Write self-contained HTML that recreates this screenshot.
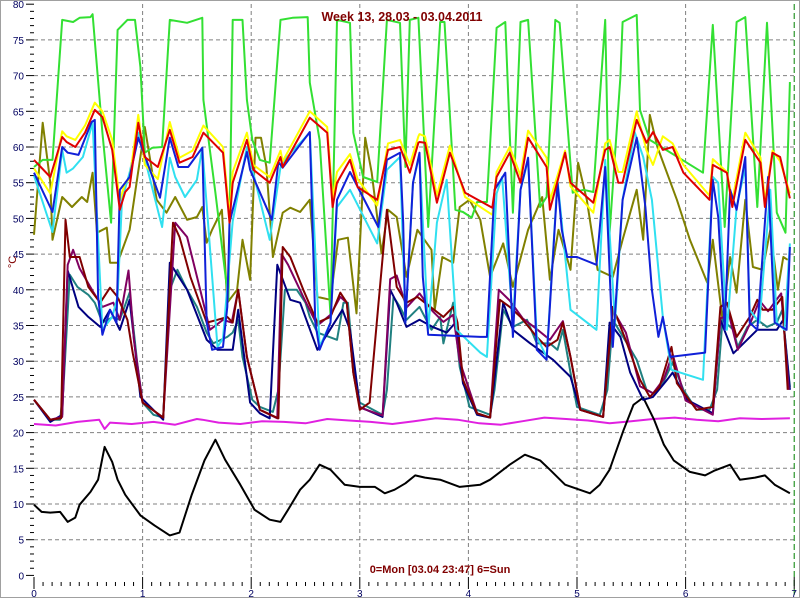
<!DOCTYPE html>
<html><head><meta charset="utf-8"><style>
html,body{margin:0;padding:0;background:#fff}
svg{display:block;font-family:"Liberation Sans",sans-serif}
</style></head><body>
<svg id="chart" width="800" height="600" viewBox="0 0 800 600" xmlns="http://www.w3.org/2000/svg">
<rect x="0.5" y="0.5" width="799" height="597" fill="#fff" stroke="#a0a0a0"/>
<g id="grid"></g>
<g id="axes"></g>
<g id="series"></g>
<text x="402" y="21" text-anchor="middle" font-size="12.5" font-weight="bold" fill="#800000">Week 13, 28.03 - 03.04.2011</text>
<text x="440" y="573" text-anchor="middle" font-size="11" font-weight="bold" fill="#800000">0=Mon [03.04 23:47] 6=Sun</text>
<text x="0" y="0" transform="translate(16,262) rotate(-90)" text-anchor="middle" font-size="11" fill="#800000">°C</text>
</svg>
<script>
const yTicks=[0,5,10,15,20,25,30,35,40,45,50,55,60,65,70,75,80];
const xTicks=[0,1,2,3,4,5,6,7];

const greenT=[0,.08,.17,.26,.36,.42,.52,.54,.63,.71,.77,.86,.93,.98,1.02,1.09,1.18,1.25,1.41,1.55,1.56,1.67,1.79,1.83,1.92,1.96,2.01,2.08,2.17,2.27,2.38,2.52,2.54,2.63,2.73,2.79,2.91,2.94,3.03,3.16,3.25,3.37,3.42,3.46,3.54,3.63,3.74,3.78,3.88,3.95,4.03,4.08,4.17,4.26,4.34,4.41,4.48,4.55,4.66,4.72,4.80,4.84,4.96,5.06,5.15,5.26,5.30,5.40,5.42,5.55,5.58,5.67,6.16,6.25,6.36,6.47,6.55,6.66,6.75,6.84,6.92,6.96];
const greenV=[57.2,58.2,58.2,77.8,77.5,78.1,78.2,78.6,62,49.4,76.4,77.8,77.8,71.2,59.2,59.9,60,77.8,77.4,78.1,66.6,53.6,38.6,77.8,77.8,66.6,61,58.2,57.8,77.8,78.1,78.2,69,61,36.5,77.8,77.4,62,55.8,55.1,77.8,77.4,57.2,77.8,78.1,48.8,77.5,77.5,51.2,50.9,50.1,52.3,52.3,76.7,77.5,50.8,77.5,77.8,51.6,53,77.8,77.4,53.6,54,53.7,77.8,48,69.8,77.5,78.5,65.2,61,56.4,77.1,48.8,77.5,78.2,51.6,77.4,50.8,48,69.1];

const redT=[0,.15,.26,.30,.38,.47,.56,.63,.72,.79,.84,.88,.96,1.02,1.14,1.25,1.34,1.46,1.56,1.74,1.80,1.83,1.96,2.02,2.17,2.27,2.29,2.54,2.70,2.75,2.79,2.91,2.98,3.16,3.26,3.37,3.46,3.54,3.55,3.60,3.71,3.83,3.97,4.22,4.26,4.38,4.48,4.55,4.72,4.75,4.89,4.94,5.15,5.26,5.30,5.38,5.42,5.55,5.64,5.70,5.79,5.88,5.98,6.22,6.25,6.38,6.43,6.55,6.69,6.73,6.80,6.87,6.96];
const redV=[58.2,55.8,61.4,60.7,60,62,65.2,64.2,59.6,51.2,53.7,54.4,63.4,58.6,57.2,62.4,57.8,58.6,62,59.2,49.4,55,61,56.8,55,58.6,57.2,64.1,62,51.6,55,58.2,54.4,52.6,59.6,60,56.4,60.6,60.7,60.6,52.2,59.2,53.6,51.5,55.8,59.2,55,61.3,57.2,51.2,59.2,55,52.2,59.6,60,55,55,63.8,60.6,62.1,59.6,60,56.4,52.6,57.5,56.4,51.6,61,57.8,51.6,59.2,58.6,52.8];
const yellowV=[57,53.5,62.2,61.5,61,63,66.2,65,61,52.5,55,55.5,64.5,57.5,55.5,63.5,58.5,59.5,63,60,50.5,56.5,62,57.5,55.8,59.5,58,65,62.8,52.8,56.5,59,55.5,51.8,60.5,61,57.5,61.5,61.8,61.5,53.2,60.2,53,50.5,56.5,60,56,62.3,58.5,52.5,59.5,54.5,50.8,60.5,61,56.5,56.5,65,59.5,57.5,61.5,60.5,57.5,53.2,58.3,56.5,52.5,62,58.5,52.5,59.5,58,53.5];

const oliveT=[0,.08,.15,.17,.26,.35,.44,.49,.54,.58,.67,.70,.77,.88,1.02,1.13,1.22,1.30,1.41,1.50,1.55,1.59,1.64,1.73,1.78,1.87,1.92,1.99,2.04,2.09,2.14,2.20,2.29,2.36,2.45,2.54,2.61,2.73,2.80,2.89,2.97,3.05,3.11,3.16,3.20,3.26,3.34,3.43,3.53,3.66,3.69,3.76,3.86,3.92,4.01,4.11,4.20,4.32,4.41,4.55,4.68,4.75,4.83,4.94,5.01,5.09,5.19,5.33,5.42,5.55,5.61,5.67,5.74,5.92,6.04,6.20,6.25,6.34,6.41,6.47,6.55,6.62,6.71,6.78,6.85,6.90,6.94];
const oliveV=[47.7,63.4,55,47,53,51.6,53,52.3,56.4,48,48.7,43.8,43.8,48.4,62.8,52.6,50.8,53,49.8,50.2,51.6,46.6,48.4,51.2,38.2,40,47,41.4,61.3,61.3,57.2,44.6,50.8,51.5,50.9,52.6,39,38.6,47,47.3,36.7,61.3,56.4,50.2,45.1,51.2,50.2,41.8,48.4,45.6,37.2,44.6,43.8,51.6,52.6,49.8,41.8,46.5,40.4,48.4,53,41.4,48.4,42.8,57.8,52.6,42.8,41.8,47,54,47,64.5,60,52.6,47,41,47,35.8,44.6,39.6,52.6,43.2,42.8,48.4,40,44.6,44.2];

const blueT=[0,.17,.26,.31,.41,.53,.56,.59,.63,.70,.76,.79,.88,.96,1.16,1.25,1.33,1.42,1.55,1.59,1.64,1.74,1.78,1.80,1.96,1.99,2.19,2.25,2.29,2.54,2.59,2.63,2.73,2.79,2.91,3.17,3.25,3.37,3.40,3.42,3.49,3.55,3.58,3.63,4.11,4.17,4.24,4.34,4.41,4.48,4.55,4.63,4.72,4.82,4.86,4.91,5.00,5.18,5.26,5.33,5.42,5.55,5.63,5.69,5.75,5.79,5.86,6.18,6.25,6.30,6.36,6.41,6.47,6.55,6.59,6.66,6.76,6.82,6.93,6.96];
const blueV=[56.4,50.9,60,59.2,58.9,63.5,63.8,39,33.7,37.2,35.4,54,55.8,61.3,52.9,61.3,57.2,57.2,59.9,35.4,31.6,32,37.6,49.4,59.3,56.8,49.8,57.9,57.1,62.1,35.4,31.6,35.4,52.6,56.5,48.8,58.2,59.2,49.4,35.4,55,59.2,41.8,33.7,33.4,33.4,54,56.4,33.4,54,58.5,31.6,30.2,55,48.4,44.6,44.6,43.5,57.2,32,52.6,61.3,51.6,40,33.4,36.2,30.6,31.2,55.4,50.2,34.4,54,51.2,58.6,35.4,34.4,55.8,35.4,34.4,46];

const cyanT=[0,.17,.26,.30,.36,.45,.54,.63,.72,.77,.81,.88,.96,1.18,1.25,1.30,1.39,1.50,1.55,1.69,1.74,1.83,1.96,2.17,2.27,2.33,2.54,2.63,2.73,2.79,2.91,3.16,3.25,3.37,3.42,3.49,3.55,3.63,3.71,3.80,3.89,4.11,4.17,4.26,4.31,4.41,4.48,4.55,4.63,4.72,4.82,4.94,5.18,5.26,5.35,5.42,5.53,5.61,5.69,5.79,5.87,6.16,6.25,6.30,6.38,6.47,6.55,6.59,6.68,6.78,6.84,6.91,6.96];
const cyanV=[56,48.1,59.6,56.4,57,58.6,63.4,34.4,36.2,39,52.6,56.4,62,48.8,58.5,55.8,53,55.4,59.9,32,33.2,49.6,60,47,57.2,58.6,62,32,35.4,51.6,54,46.5,56.8,58.6,35.4,55,58.9,34.4,49.4,55.4,34.4,31.2,30.6,53.5,55.8,35.4,54,58.2,33.4,30.6,55.4,37.2,34.4,58.2,35.4,52.6,62.1,58.6,52.6,36.2,28.8,27.4,55.8,55,34.4,51.6,57.2,37.2,35.4,54,35.4,34.4,46.5];

const maroonT=[0,.15,.25,.29,.33,.42,.50,.61,.70,.77,.86,.91,1.00,1.19,1.28,1.34,1.44,1.59,1.69,1.78,1.83,1.88,1.96,2.08,2.25,2.29,2.36,2.48,2.61,2.73,2.82,2.88,2.94,3.00,3.09,3.25,3.34,3.43,3.53,3.65,3.77,3.86,3.90,3.95,4.08,4.20,4.29,4.38,4.48,4.63,4.72,4.82,4.87,4.94,5.03,5.24,5.33,5.46,5.58,5.67,5.76,5.87,5.92,6.10,6.25,6.32,6.38,6.47,6.59,6.66,6.71,6.80,6.89,6.94];
const maroonV=[24.6,21.8,22,49.8,44.6,44.6,40.4,38.2,40.3,39,35.8,31.1,24.2,22.1,49.4,47.4,41.8,35.4,35.8,36.2,35.4,40,30.6,23.2,22,46,44.6,40,35.4,36.2,39.6,38.2,28.4,23.2,24.2,51.2,40.4,38.2,39,37.6,36.2,37.6,35.4,27.4,22.7,22.1,38.6,37.6,36.2,33.4,32,33,35.4,30.6,23.2,22.2,37.6,32.5,27.4,25,26.4,32,26.9,23.2,23.6,37.6,38.2,33.4,36.2,38.6,37.2,37.2,39,26];

const purpleT=[0,.15,.26,.31,.36,.42,.55,.63,.73,.79,.87,.92,1.00,1.19,1.30,1.41,1.53,1.62,1.74,1.82,1.88,1.96,2.08,2.24,2.28,2.34,2.48,2.61,2.73,2.82,2.88,2.94,3.00,3.21,3.28,3.34,3.43,3.55,3.67,3.77,3.86,3.92,4.08,4.20,4.28,4.38,4.50,4.63,4.75,4.87,4.94,5.03,5.24,5.33,5.45,5.58,5.70,5.80,5.88,6.00,6.25,6.32,6.40,6.48,6.60,6.68,6.76,6.88,6.95];
const purpleV=[24.6,21.8,22.2,43.5,45.6,43,39.6,37.6,38.2,35.8,42.7,33,24.2,22.1,49.4,47.4,40,34.4,35.8,35.4,40,30.6,23.2,22,45,43.5,39,35,36.5,39,38.2,28.4,23.5,22.4,41.5,42,37.5,39.5,37,35.5,36.5,30,22.7,22.1,40,38.5,36,34.5,33,35.6,30.6,23.2,22.2,37.2,34,26.5,25.5,27.5,31,24.5,22.5,36,36.5,31.6,35.5,38.5,37,39.5,26];

const navyT=[0,.15,.26,.31,.41,.50,.61,.70,.79,.88,.98,1.19,1.25,1.41,1.59,1.69,1.83,1.88,1.99,2.08,2.17,2.24,2.36,2.45,2.61,2.84,2.91,3.00,3.21,3.28,3.34,3.43,3.55,3.67,3.80,3.88,3.95,4.08,4.20,4.32,4.41,4.57,4.78,4.94,5.03,5.24,5.30,5.40,5.49,5.61,5.70,5.83,5.88,6.01,6.25,6.32,6.44,6.66,6.84,6.90,6.96];
const navyV=[24.6,21.5,22.5,42.7,37.6,36.2,34.8,37.2,34.4,38.6,25,21.8,43.8,40,33,31.6,31.6,37.2,24.2,22.7,22,43.5,38.6,38.2,31.6,37.2,34.4,23.6,22.2,40,38.2,34.8,35.8,34.8,34,35.4,26.9,22.5,22.1,38.2,34.4,32.5,30.2,27.8,23.2,22.2,35.4,33.4,28.4,24.6,25,27.4,28.4,24.6,22.7,35.8,31.1,34.4,34.4,35.8,26];

const tealT=[0,.15,.24,.27,.33,.40,.50,.56,.63,.73,.79,.88,.95,1.00,1.10,1.19,1.25,1.32,1.41,1.50,1.59,1.65,1.78,1.83,1.88,1.92,2.01,2.08,2.20,2.25,2.31,2.42,2.50,2.54,2.61,2.79,2.85,2.89,2.94,3.00,3.21,3.25,3.31,3.37,3.43,3.55,3.66,3.74,3.77,3.86,3.92,4.01,4.20,4.24,4.32,4.41,4.54,4.63,4.75,4.82,4.87,4.94,5.00,5.21,5.28,5.33,5.46,5.55,5.64,5.70,5.79,5.88,5.98,6.10,6.22,6.29,6.34,6.44,6.48,6.57,6.66,6.75,6.84,6.89,6.96];
const tealV=[24.6,21.8,21.8,26,42.1,40.4,39.3,38.2,35.4,36.2,35.8,39.6,29.8,24.2,22.5,22.1,40,42.8,40,37.6,34,32.5,33.4,34,35.8,30.6,24.6,23.6,22.9,26,40,40,38.2,36.2,34,33,38.2,38.2,29.8,24.2,22.5,26,39,37.6,35.8,37.6,34.4,36.2,32.5,38.2,29.2,23.6,22.5,26,37.2,34.8,35.8,32.5,32.5,31.6,34.4,28.4,23.6,22.5,26,35.8,32.5,30.2,26,25.5,26.9,29.8,26,23.2,23.2,26,35.8,34.4,32,34.8,35.8,34.8,35.4,37.2,26.4];

const magentaT=[0,.2,.4,.6,.65,.7,.9,1.1,1.3,1.5,1.55,1.7,1.9,2.1,2.3,2.5,2.7,2.9,3.1,3.3,3.5,3.7,3.9,4.1,4.3,4.5,4.7,4.9,5.1,5.3,5.5,5.7,5.9,6.1,6.3,6.5,6.7,6.96];
const magentaV=[21.2,21,21.5,21.8,20.5,21.4,21.2,21.5,21.1,21.9,21.8,21.4,21.2,21.6,21.5,21.3,21.9,21.7,21.5,21.2,21.6,22,21.8,21.3,21.1,21.6,22.1,21.9,21.7,21.3,21.6,21.9,22.1,21.8,21.6,22,21.9,22];

const blackT=[0,.07,.15,.24,.31,.38,.42,.52,.59,.65,.72,.77,.84,.98,1.11,1.25,1.34,1.45,1.57,1.67,1.76,1.90,2.03,2.17,2.27,2.34,2.45,2.54,2.63,2.73,2.86,3.00,3.14,3.23,3.32,3.42,3.51,3.60,3.74,3.92,4.11,4.20,4.38,4.52,4.66,4.75,4.89,5.12,5.21,5.30,5.43,5.52,5.61,5.71,5.80,5.89,6.04,6.18,6.27,6.41,6.50,6.64,6.73,6.82,6.96];
const blackV=[9.9,8.9,8.8,8.9,7.5,8.1,9.9,11.7,13.4,18,15.9,13.4,11.3,8.4,7,5.6,6,11.2,16.1,19,16.2,12.7,9.2,7.8,7.5,9.2,12,13.4,15.5,14.8,12.7,12.4,12.4,11.5,12,12.9,14,13.7,13.4,12.4,12.7,13.4,15.5,16.9,16.1,14.8,12.7,11.5,12.7,14.8,20.4,23.9,24.9,21.8,18.3,16.1,14.5,14,14.7,15.5,13.4,13.7,14,12.7,11.5];

const NS='http://www.w3.org/2000/svg';
const X0=34, PXD=108.6, Y0=575.4, PXV=7.14;
function xs(t){return X0+t*PXD;}
function ys(v){return Y0-v*PXV;}
function mk(tag,attrs,parent){const e=document.createElementNS(NS,tag);for(const k in attrs)e.setAttribute(k,attrs[k]);parent.appendChild(e);return e;}

const grid=document.getElementById('grid');
const axes=document.getElementById('axes');
yTicks.forEach(v=>{
  if(v>0&&v<80){
    const l=mk('line',{x1:34,x2:795,y1:ys(v),y2:ys(v),stroke:'#808080','stroke-dasharray':'4,3','stroke-width':1},grid);
    
    
  }
  const tk=mk('line',{x1:26,x2:34,y1:ys(v),y2:ys(v),stroke:'#000',"stroke-width":1},axes);
  
  
  const tx=mk('text',{x:24,y:ys(v)+4,'text-anchor':'end','font-size':10,fill:'#000060'},axes);
  tx.textContent=v;
  
  
});
for(let v=0;v<80;v++){ if(v%5){
  const m=mk('line',{x1:30,x2:34,y1:ys(v),y2:ys(v),stroke:'#000','stroke-width':1},axes);
  
  
}}
xTicks.forEach(t=>{
  if(t>0&&t<7){
    const l=mk('line',{x1:xs(t),x2:xs(t),y1:4,y2:575,stroke:'#808080','stroke-dasharray':'4,3','stroke-width':1},grid);
    
    
  }
  const tk=mk('line',{x1:xs(t),x2:xs(t),y1:577,y2:589,stroke:'#000','stroke-width':1},axes);
  
  
  const tx=mk('text',{x:xs(t),y:597,'text-anchor':'middle','font-size':10,fill:'#000060'},axes);
  tx.textContent=t;
  
  
});
for(let i=0;i<84;i++){ if(i%12){
  const m=mk('line',{x1:xs(i/12),x2:xs(i/12),y1:582,y2:586,stroke:'#000','stroke-width':1},axes);
  
  
}}
const nowLine=mk('line',{x1:xs(7),x2:xs(7),y1:4,y2:597,stroke:'#008000','stroke-dasharray':'6,3','stroke-width':1},grid);



const sg=document.getElementById('series');
function drawSeries(T,V,color,name){
  const pts=T.map((t,i)=>xs(t).toFixed(1)+','+ys(V[i]).toFixed(1)).join(' ');
  const p=mk('polyline',{points:pts,fill:'none',stroke:color,'stroke-width':2,'stroke-linejoin':'round'},sg);
  
  
}
drawSeries(magentaT,magentaV,'#e020e0','series-magenta');
drawSeries(blackT,blackV,'#000000','series-black');
drawSeries(oliveT,oliveV,'#808000','series-olive');
drawSeries(greenT,greenV,'#33e033','series-green');
drawSeries(tealT,tealV,'#208080','series-teal');
drawSeries(navyT,navyV,'#000080','series-navy');
drawSeries(purpleT,purpleV,'#800060','series-purple');
drawSeries(maroonT,maroonV,'#800000','series-maroon');
drawSeries(cyanT,cyanV,'#30e0f0','series-cyan');
drawSeries(redT,yellowV,'#ffff00','series-yellow');
drawSeries(blueT,blueV,'#1020d8','series-blue');
drawSeries(redT,redV,'#e00000','series-red');
</script>
</body></html>
